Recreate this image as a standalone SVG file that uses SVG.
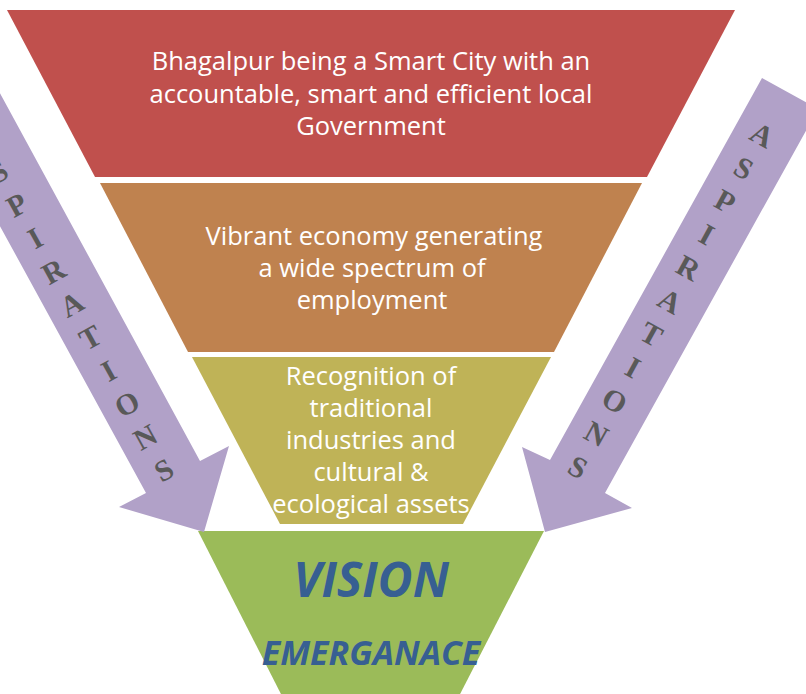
<svg xmlns="http://www.w3.org/2000/svg" width="806" height="694" viewBox="0 0 806 694">
<style>
.lbl{font-family:"Open Sans","Noto Sans","Liberation Sans",sans-serif;font-size:25.5px;fill:#ffffff;text-anchor:middle}
.big{font-family:"Open Sans","Noto Sans","Liberation Sans",sans-serif;font-weight:bold;font-style:italic;fill:#375F92;text-anchor:middle}
.asp{font-family:"Liberation Serif","Times New Roman",serif;font-size:30px;font-weight:bold;fill:#595959;text-anchor:middle}
.arrow{fill:#B1A1C8}
</style>
<rect width="806" height="694" fill="#ffffff"/>
<g id="level1">
<polygon points="7,10 735,10 647,177 95,177" fill="#C0504D"/>
<text class="lbl" x="371" y="70">Bhagalpur being a Smart City with an</text>
<text class="lbl" x="371" y="103">accountable, smart and efficient local</text>
<text class="lbl" x="371" y="135">Government</text>
</g>
<g id="level2">
<polygon points="100,183 642,183 554,352 188,352" fill="#BF824F"/>
<text class="lbl" x="374" y="245">Vibrant economy generating</text>
<text class="lbl" x="372" y="277">a wide spectrum of</text>
<text class="lbl" x="372" y="309">employment</text>
</g>
<g id="level3">
<polygon points="192,357 551,357 463,524 280,524" fill="#BFB357"/>
<text class="lbl" x="371" y="385">Recognition of</text>
<text class="lbl" x="371" y="417">traditional</text>
<text class="lbl" x="371" y="449">industries and</text>
<text class="lbl" x="371" y="481">cultural &amp;</text>
<text class="lbl" x="371" y="513">ecological assets</text>
</g>
<g id="vision">
<polygon points="198,531 544,531 457,700 284,700" fill="#9BBB59"/>
<text class="big" x="371" y="597" font-size="48">VISION</text>
<text class="big" x="371" y="665" font-size="34">EMERGANACE</text>
</g>
<g id="connectors">
<g id="arrow-left">
<polygon class="arrow" points="-80,-54 200,461 229,446 204,532 119,507 146,493 -150,-48"/>
<text class="asp" transform="translate(-1.5,172) rotate(-29)" x="0 0 0 0 0 0 0 0 0 0" y="10 47.9 85.8 123.7 161.6 199.5 237.4 275.3 313.2 351.1">SPIRATIONS</text>
</g>
<g id="arrow-right">
<polygon class="arrow" points="762,78 818,109 605,493 632,508 545,532 522,447 550,460"/>
<text class="asp" transform="translate(762,135) rotate(29)" x="0 0 0 0 0 0 0 0 0 0 0" y="10 48 86 124 162 200 238 276 314 352 390">ASPIRATIONS</text>
</g>
</g>
</svg>
